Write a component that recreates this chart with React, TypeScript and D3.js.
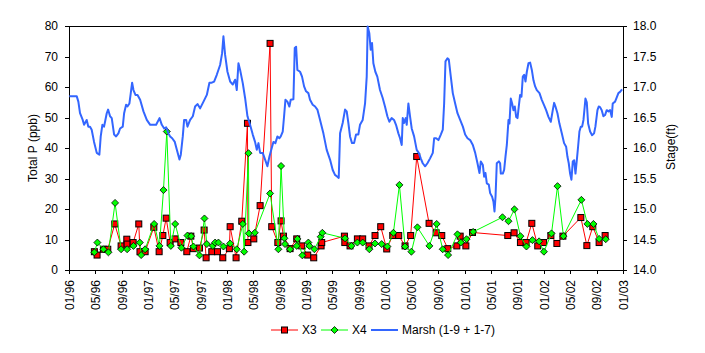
import { useEffect, useRef } from "react";
import * as d3 from "d3";

// [decimal year, Total P (ppb)]
const x3Data: [number, number][] = [
  [1996.32, 6.0], [1996.354, 4.9], [1996.434, 6.8], [1996.489, 6.8], [1996.577, 15.1],
  [1996.657, 7.9], [1996.729, 10.1], [1996.733, 8.5], [1996.809, 9.0], [1996.88, 15.1],
  [1996.895, 6.0], [1996.96, 6.0], [1997.07, 14.0], [1997.137, 6.0], [1997.184, 11.3],
  [1997.226, 17.0], [1997.276, 9.0], [1997.34, 10.2], [1997.412, 9.0], [1997.487, 6.0],
  [1997.538, 11.1], [1997.571, 7.0], [1997.647, 7.2], [1997.706, 13.1], [1997.731, 4.0],
  [1997.803, 6.0], [1997.875, 6.0], [1997.942, 4.0], [1998.025, 7.0], [1998.035, 14.2],
  [1998.11, 4.0], [1998.182, 16.0], [1998.254, 48.1], [1998.26, 9.0], [1998.334, 10.2],
  [1998.414, 21.1], [1998.54, 74.3], [1998.561, 14.2], [1998.638, 9.0], [1998.679, 16.1],
  [1998.709, 11.1], [1998.793, 7.0], [1998.877, 10.2], [1998.94, 7.9], [1999.016, 4.9],
  [1999.092, 4.0], [1999.185, 7.9], [1999.193, 9.0], [1999.48, 11.1], [1999.485, 9.0],
  [1999.551, 7.9], [1999.644, 10.2], [1999.711, 10.2], [1999.791, 7.9], [1999.867, 11.3],
  [1999.939, 14.2], [2000.015, 6.9], [2000.091, 11.3], [2000.166, 11.3], [2000.246, 7.9],
  [2000.317, 11.3], [2000.393, 37.2], [2000.549, 15.3], [2000.638, 12.2], [2000.709, 11.3],
  [2000.785, 7.0], [2000.899, 7.9], [2000.941, 11.1], [2001.013, 7.9], [2001.097, 12.3],
  [2001.543, 11.3], [2001.623, 12.2], [2001.703, 9.0], [2001.775, 9.0], [2001.847, 15.3],
  [2001.922, 7.9], [2001.996, 9.0], [2002.088, 11.3], [2002.164, 8.7], [2002.24, 11.1],
  [2002.467, 17.2], [2002.543, 8.0], [2002.618, 14.2], [2002.698, 9.0], [2002.774, 11.3],
];

const x4Data: [number, number][] = [
  [1996.32, 5.8], [1996.358, 9.0], [1996.434, 6.8], [1996.497, 5.8], [1996.581, 22.0],
  [1996.657, 6.8], [1996.733, 6.8], [1996.813, 7.9], [1996.893, 9.0], [1996.91, 4.9],
  [1996.96, 6.8], [1997.074, 15.1], [1997.141, 7.9], [1997.192, 26.2], [1997.234, 45.4],
  [1997.285, 7.9], [1997.34, 15.1], [1997.419, 7.3], [1997.495, 11.3], [1997.542, 11.1],
  [1997.571, 7.7], [1997.647, 4.8], [1997.71, 16.9], [1997.74, 8.5], [1997.816, 7.9],
  [1997.845, 9.0], [1997.887, 9.0], [1997.95, 7.7], [1998.035, 8.7], [1998.119, 6.8],
  [1998.195, 15.1], [1998.212, 6.0], [1998.267, 38.3], [1998.272, 12.0], [1998.347, 12.2],
  [1998.54, 25.1], [1998.645, 6.8], [1998.679, 34.1], [1998.721, 10.4], [1998.729, 8.5],
  [1998.793, 6.8], [1998.877, 7.9], [1998.885, 10.2], [1998.948, 4.8], [1999.024, 9.0],
  [1999.037, 7.9], [1999.1, 6.8], [1999.18, 10.9], [1999.201, 12.2], [1999.488, 10.4],
  [1999.568, 7.9], [1999.644, 9.0], [1999.711, 9.0], [1999.795, 6.8], [1999.867, 8.7],
  [1999.951, 8.5], [2000.023, 7.7], [2000.099, 12.2], [2000.175, 27.9], [2000.246, 7.7],
  [2000.326, 6.0], [2000.402, 14.0], [2000.553, 7.9], [2000.645, 15.1], [2000.721, 6.8],
  [2000.789, 4.9], [2000.907, 11.7], [2000.949, 9.0], [2001.021, 10.1], [2001.105, 12.5],
  [2001.476, 17.3], [2001.552, 16.0], [2001.627, 19.9], [2001.703, 11.1], [2001.779, 7.7],
  [2001.855, 9.8], [2001.939, 9.4], [2002.0, 6.0], [2002.096, 12.0], [2002.172, 27.5],
  [2002.247, 11.1], [2002.474, 23.0], [2002.55, 15.1], [2002.626, 15.1], [2002.698, 10.2],
  [2002.782, 10.1],
];

// [decimal year, stage (ft)]
const marshData: [number, number][] = [
  [1996.004, 16.85], [1996.097, 16.85], [1996.118, 16.76], [1996.139, 16.57], [1996.173, 16.46],
  [1996.19, 16.38], [1996.223, 16.46], [1996.244, 16.35], [1996.265, 16.35], [1996.286, 16.3],
  [1996.316, 16.1], [1996.35, 15.92], [1996.383, 15.89], [1996.4, 16.19], [1996.421, 16.38],
  [1996.442, 16.35], [1996.459, 16.46], [1996.476, 16.57], [1996.493, 16.63], [1996.518, 16.52],
  [1996.539, 16.49], [1996.569, 16.22], [1996.594, 16.19], [1996.623, 16.24], [1996.644, 16.32],
  [1996.678, 16.35], [1996.695, 16.57], [1996.72, 16.71], [1996.737, 16.68], [1996.762, 16.73],
  [1996.779, 16.9], [1996.796, 17.07], [1996.813, 16.95], [1996.838, 16.87], [1996.864, 16.87],
  [1996.897, 16.79], [1996.939, 16.6], [1996.981, 16.46], [1997.024, 16.38], [1997.066, 16.38],
  [1997.099, 16.38], [1997.142, 16.49], [1997.171, 16.38], [1997.201, 16.32], [1997.226, 16.34],
  [1997.255, 16.24], [1997.276, 16.19], [1997.302, 16.16], [1997.335, 16.1], [1997.361, 15.97],
  [1997.394, 15.81], [1997.411, 15.89], [1997.436, 16.19], [1997.453, 16.46], [1997.479, 16.46],
  [1997.495, 16.35], [1997.529, 16.46], [1997.563, 16.52], [1997.592, 16.68], [1997.622, 16.72],
  [1997.655, 16.65], [1997.698, 16.76], [1997.74, 16.87], [1997.773, 17.07], [1997.803, 17.07],
  [1997.832, 17.09], [1997.866, 17.2], [1997.908, 17.36], [1997.933, 17.55], [1997.95, 17.83],
  [1997.971, 17.53], [1998.001, 17.25], [1998.035, 17.09], [1998.068, 17.04], [1998.098, 17.12],
  [1998.119, 16.95], [1998.14, 17.39], [1998.161, 17.28], [1998.195, 17.06], [1998.224, 16.82],
  [1998.254, 16.52], [1998.287, 16.38], [1998.321, 16.22], [1998.35, 16.1], [1998.372, 15.97],
  [1998.393, 16.08], [1998.414, 15.92], [1998.447, 15.92], [1998.477, 15.81], [1998.506, 15.7],
  [1998.532, 15.86], [1998.561, 16.0], [1998.582, 16.1], [1998.607, 16.08], [1998.633, 16.19],
  [1998.658, 16.16], [1998.675, 16.19], [1998.7, 16.27], [1998.717, 16.52], [1998.734, 16.79],
  [1998.759, 16.76], [1998.784, 16.68], [1998.801, 16.79], [1998.835, 16.8], [1998.852, 17.64],
  [1998.869, 17.66], [1998.885, 17.28], [1998.919, 17.25], [1998.944, 17.17], [1998.97, 17.01],
  [1998.995, 16.93], [1999.024, 16.9], [1999.045, 16.79], [1999.079, 16.71], [1999.109, 16.68],
  [1999.138, 16.63], [1999.172, 16.46], [1999.214, 16.24], [1999.256, 15.97], [1999.298, 15.81],
  [1999.332, 15.64], [1999.361, 15.56], [1999.391, 15.53], [1999.408, 15.51], [1999.425, 16.24],
  [1999.458, 16.41], [1999.488, 16.63], [1999.509, 16.6], [1999.53, 16.41], [1999.551, 16.19],
  [1999.576, 16.08], [1999.602, 16.08], [1999.627, 16.22], [1999.656, 16.22], [1999.677, 16.38],
  [1999.711, 16.46], [1999.741, 16.73], [1999.762, 17.17], [1999.774, 17.99], [1999.795, 17.88],
  [1999.812, 17.61], [1999.829, 17.72], [1999.846, 17.39], [1999.871, 17.25], [1999.896, 17.17],
  [1999.93, 16.95], [1999.964, 16.82], [1999.993, 16.68], [2000.023, 16.52], [2000.048, 16.43],
  [2000.077, 16.49], [2000.107, 16.46], [2000.132, 16.38], [2000.162, 16.24], [2000.183, 16.16],
  [2000.204, 16.05], [2000.217, 16.49], [2000.233, 16.41], [2000.254, 16.49], [2000.267, 16.38],
  [2000.288, 16.73], [2000.309, 16.52], [2000.33, 16.32], [2000.36, 16.19], [2000.393, 15.97],
  [2000.419, 15.92], [2000.444, 15.83], [2000.469, 15.75], [2000.499, 15.7], [2000.528, 15.75],
  [2000.562, 15.83], [2000.596, 15.92], [2000.613, 16.16], [2000.638, 16.16], [2000.667, 16.13],
  [2000.697, 16.22], [2000.722, 16.3], [2000.739, 16.73], [2000.756, 17.42], [2000.781, 17.47],
  [2000.798, 17.45], [2000.823, 17.17], [2000.848, 16.9], [2000.878, 16.73], [2000.907, 16.57],
  [2000.941, 16.46], [2000.975, 16.35], [2001.004, 16.22], [2001.034, 16.16], [2001.067, 16.13],
  [2001.101, 16.05], [2001.131, 15.92], [2001.16, 15.75], [2001.185, 15.59], [2001.202, 15.78],
  [2001.228, 15.72], [2001.244, 15.53], [2001.261, 15.59], [2001.278, 15.42], [2001.303, 15.4],
  [2001.32, 15.26], [2001.345, 15.2], [2001.362, 15.12], [2001.375, 14.96], [2001.388, 15.2],
  [2001.404, 15.75], [2001.43, 15.78], [2001.446, 15.75], [2001.455, 15.58], [2001.48, 15.58],
  [2001.497, 15.64], [2001.514, 15.86], [2001.531, 16.05], [2001.552, 16.46], [2001.564, 16.4],
  [2001.581, 16.81], [2001.598, 16.73], [2001.615, 16.62], [2001.632, 16.68], [2001.649, 16.51],
  [2001.666, 16.49], [2001.682, 16.68], [2001.699, 16.87], [2001.716, 16.84], [2001.733, 17.17],
  [2001.75, 17.2], [2001.767, 17.09], [2001.784, 17.25], [2001.805, 17.39], [2001.826, 17.4],
  [2001.847, 17.28], [2001.868, 17.11], [2001.889, 17.01], [2001.91, 16.95], [2001.944, 16.9],
  [2001.973, 16.79], [2002.003, 16.7], [2002.028, 16.62], [2002.057, 16.51], [2002.087, 16.43],
  [2002.112, 16.62], [2002.129, 16.74], [2002.146, 16.68], [2002.171, 16.57], [2002.196, 16.4],
  [2002.226, 16.24], [2002.255, 16.08], [2002.281, 16.02], [2002.297, 15.86], [2002.314, 15.75],
  [2002.331, 15.58], [2002.348, 15.48], [2002.365, 15.78], [2002.382, 15.8], [2002.399, 15.58],
  [2002.416, 15.8], [2002.432, 16.02], [2002.449, 16.27], [2002.466, 16.35], [2002.483, 16.35],
  [2002.5, 16.46], [2002.516, 16.68], [2002.525, 16.81], [2002.542, 16.75], [2002.559, 16.4],
  [2002.584, 16.27], [2002.609, 16.21], [2002.634, 16.24], [2002.651, 16.35], [2002.677, 16.62],
  [2002.693, 16.68], [2002.71, 16.67], [2002.731, 16.62], [2002.752, 16.52], [2002.773, 16.54],
  [2002.794, 16.62], [2002.816, 16.6], [2002.837, 16.62], [2002.858, 16.51], [2002.87, 16.73],
  [2002.9, 16.76], [2002.921, 16.83], [2002.942, 16.9], [2002.963, 16.92], [2002.988, 16.96],
];

const leftTicks = [0, 10, 20, 30, 40, 50, 60, 70, 80];
const rightTicks = [14, 14.5, 15, 15.5, 16, 16.5, 17, 17.5, 18];
const legendLabels = ["X3", "X4", "Marsh (1-9 + 1-7)"];

const FONT = "'Liberation Sans', Arial, sans-serif";

// decimal year -> Date
function toDate(y: number) {
  const y0 = Math.floor(y);
  const start = new Date(y0, 0, 1).getTime();
  const end = new Date(y0 + 1, 0, 1).getTime();
  return new Date(start + (y - y0) * (end - start));
}

export default function App() {
  const svgRef = useRef<SVGSVGElement>(null);

  useEffect(() => {
    const svgEl = svgRef.current;
    if (!svgEl) return;
    const svg = d3.select(svgEl);
    svg.selectAll("*").remove();

    const left = 69, right = 623, top = 26, bottom = 270;

    const x = d3
      .scaleTime()
      .domain([new Date(1996, 0, 1), new Date(2003, 0, 1)])
      .range([left, right]);
    const yLeft = d3.scaleLinear().domain([0, 80]).range([bottom, top]);
    const yRight = d3.scaleLinear().domain([14, 18]).range([bottom, top]);

    svg.append("rect").attr("width", 705).attr("height", 353).attr("fill", "#fff");

    // plot frame (half-pixel offset to stay crisp)
    svg
      .append("rect")
      .attr("x", left + 0.5)
      .attr("y", top + 0.5)
      .attr("width", right - left)
      .attr("height", bottom - top)
      .attr("fill", "none")
      .attr("stroke", "#000")
      .attr("shape-rendering", "crispEdges");

    // left axis
    const gl = svg
      .append("g")
      .attr("transform", `translate(${left},0)`)
      .call(d3.axisLeft(yLeft).tickValues(leftTicks).tickSize(4).tickSizeOuter(0).tickPadding(7));
    gl.attr("font-size", 12).attr("font-family", FONT);

    // right axis
    const gr = svg
      .append("g")
      .attr("transform", `translate(${right},0)`)
      .call(
        d3
          .axisRight(yRight)
          .tickValues(rightTicks)
          .tickFormat(d3.format(".1f") as any)
          .tickSize(4)
          .tickSizeOuter(0)
          .tickPadding(6)
      );
    gr.attr("font-size", 12).attr("font-family", FONT);

    // bottom axis with vertical labels
    const monthTicks = d3.timeMonth.every(4)!.range(new Date(1996, 0, 1), new Date(2003, 0, 2));
    const gb = svg
      .append("g")
      .attr("transform", `translate(0,${bottom})`)
      .call(
        d3
          .axisBottom(x)
          .tickValues(monthTicks)
          .tickFormat(d3.timeFormat("%m/%y") as any)
          .tickSize(4)
          .tickSizeOuter(0)
      );
    gb.attr("font-size", 12).attr("font-family", FONT);
    gb.selectAll("text")
      .attr("transform", "rotate(-90)")
      .attr("text-anchor", "end")
      .attr("x", -10)
      .attr("y", 0)
      .attr("dy", "0.35em");
    svg.selectAll(".domain").attr("stroke", "#000").attr("shape-rendering", "crispEdges");
    svg.selectAll(".tick line").attr("stroke", "#000").attr("shape-rendering", "crispEdges");
    svg.selectAll(".tick text").attr("fill", "#000");

    // axis titles
    svg
      .append("text")
      .attr("transform", "translate(33,148) rotate(-90)")
      .attr("text-anchor", "middle")
      .attr("dy", "0.35em")
      .attr("font-size", 12)
      .attr("font-family", FONT)
      .text("Total P (ppb)");
    svg
      .append("text")
      .attr("transform", "translate(671,147) rotate(-90)")
      .attr("text-anchor", "middle")
      .attr("dy", "0.35em")
      .attr("font-size", 12)
      .attr("font-family", FONT)
      .text("Stage(ft)");

    const lineLeft = d3
      .line<[number, number]>()
      .x((d) => x(toDate(d[0])))
      .y((d) => yLeft(d[1]));
    const lineRight = d3
      .line<[number, number]>()
      .x((d) => x(toDate(d[0])))
      .y((d) => yRight(d[1]));

    const diamond = (cx: number, cy: number, r: number) =>
      `M${cx},${cy - r}L${cx + r},${cy}L${cx},${cy + r}L${cx - r},${cy}Z`;

    // X3
    svg
      .append("path")
      .datum(x3Data)
      .attr("fill", "none")
      .attr("stroke", "#ff0000")
      .attr("stroke-width", 1)
      .attr("d", lineLeft);
    svg
      .append("g")
      .selectAll("rect")
      .data(x3Data)
      .join("rect")
      .attr("x", (d) => x(toDate(d[0])) - 3)
      .attr("y", (d) => yLeft(d[1]) - 3)
      .attr("width", 6)
      .attr("height", 6)
      .attr("fill", "#ff0000")
      .attr("stroke", "#000");

    // X4
    svg
      .append("path")
      .datum(x4Data)
      .attr("fill", "none")
      .attr("stroke", "#00ff00")
      .attr("stroke-width", 1)
      .attr("d", lineLeft);
    svg
      .append("g")
      .selectAll("path")
      .data(x4Data)
      .join("path")
      .attr("d", (d) => diamond(x(toDate(d[0])), yLeft(d[1]), 3.5))
      .attr("fill", "#00ff00")
      .attr("stroke", "#000")
      .attr("stroke-width", 0.8);

    // Marsh
    svg
      .append("path")
      .datum(marshData)
      .attr("fill", "none")
      .attr("stroke", "#3366ff")
      .attr("stroke-width", 2)
      .attr("stroke-linejoin", "round")
      .attr("d", lineRight);

    // legend
    const ly = 330;
    const lg = svg.append("g").attr("font-size", 12).attr("font-family", FONT);
    const items = [
      { x0: 271, color: "#ff0000", marker: "square" },
      { x0: 321, color: "#00ff00", marker: "diamond" },
      { x0: 371, color: "#3366ff", marker: "none" },
    ];
    items.forEach((it, i) => {
      lg.append("line")
        .attr("x1", it.x0)
        .attr("x2", it.x0 + 27)
        .attr("y1", ly)
        .attr("y2", ly)
        .attr("stroke", it.color)
        .attr("stroke-width", it.marker === "none" ? 2 : 1);
      const cx = it.x0 + 13.5;
      if (it.marker === "square") {
        lg.append("rect")
          .attr("x", cx - 3)
          .attr("y", ly - 3)
          .attr("width", 6)
          .attr("height", 6)
          .attr("fill", it.color)
          .attr("stroke", "#000");
      } else if (it.marker === "diamond") {
        lg.append("path")
          .attr("d", diamond(cx, ly, 3.5))
          .attr("fill", it.color)
          .attr("stroke", "#000")
          .attr("stroke-width", 0.8);
      }
      lg.append("text")
        .attr("x", it.x0 + 31)
        .attr("y", ly)
        .attr("dy", "0.35em")
        .text(legendLabels[i]);
    });
  }, []);

  return (
    <div style={{ position: "absolute", left: 0, top: 0 }}>
      <svg ref={svgRef} width={705} height={353} style={{ display: "block" }} />
    </div>
  );
}
